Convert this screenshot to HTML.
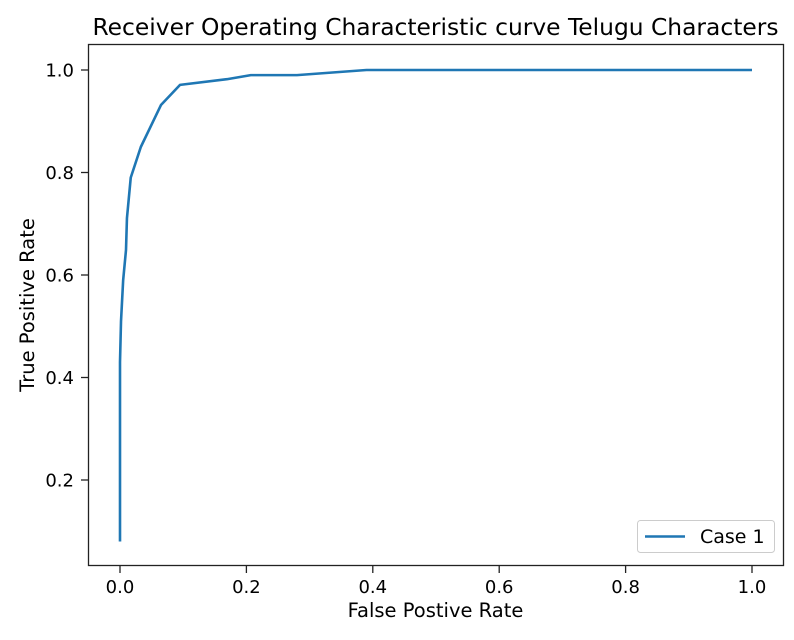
<!DOCTYPE html>
<html><head><meta charset="utf-8"><style>
body{margin:0;background:#fff;}
svg text{font-family:"DejaVu Sans","Liberation Sans",sans-serif;fill:#000;}
</style></head><body>
<svg id="chart" width="794" height="635" xmlns="http://www.w3.org/2000/svg">
<rect width="794" height="635" fill="#fff"/>
<text x="435.5" y="35" font-size="23.4" text-anchor="middle" textLength="686" lengthAdjust="spacingAndGlyphs">Receiver Operating Characteristic curve Telugu Characters</text>
<g id="ticks"></g>
<path id="curve" fill="none" stroke="#1f77b4" stroke-width="2.6" stroke-linejoin="round"/>
<rect x="88.5" y="44.5" width="695" height="521" fill="none" stroke="#222" stroke-width="1.3"/>
<text x="435.5" y="617" font-size="19.5" text-anchor="middle">False Postive Rate</text>
<text transform="translate(34,305) rotate(-90)" font-size="19.5" text-anchor="middle">True Positive Rate</text>
<g>
<rect x="637.5" y="520.5" width="137" height="32" rx="3" fill="#fff" stroke="#ccc"/>
<line x1="645" y1="536.5" x2="685" y2="536.5" stroke="#1f77b4" stroke-width="2.6"/>
<text x="700" y="543" font-size="19">Case 1</text>
</g>
</svg>
<script>
const fpr=[0,0,0.0016,0.005,0.0095,0.011,0.017,0.033,0.065,0.095,0.169,0.207,0.28,0.39,1.0];
const tpr=[0.08,0.43,0.51,0.59,0.649,0.711,0.79,0.85,0.932,0.971,0.982,0.99,0.99,1.0,1.0];
const xTicks=[0,0.2,0.4,0.6,0.8,1.0];
const yTicks=[0.2,0.4,0.6,0.8,1.0];
const X=v=>120+v*632, Y=v=>582.5-v*512.5;
document.getElementById('curve').setAttribute('d',fpr.map((f,i)=>(i?'L':'M')+X(f)+','+Y(tpr[i])).join(''));
const g=document.getElementById('ticks');const NS='http://www.w3.org/2000/svg';
xTicks.forEach(t=>{const l=document.createElementNS(NS,'line');


l.setAttribute('x1',X(t));l.setAttribute('x2',X(t));l.setAttribute('y1',565.5);l.setAttribute('y2',573);l.setAttribute('stroke','#222');l.setAttribute('stroke-width','1.3');g.appendChild(l);
const s=document.createElementNS(NS,'text');


s.setAttribute('x',X(t));s.setAttribute('y',593);s.setAttribute('font-size','18');s.setAttribute('text-anchor','middle');s.textContent=t.toFixed(1);g.appendChild(s);});
yTicks.forEach(t=>{const l=document.createElementNS(NS,'line');


l.setAttribute('x1',81);l.setAttribute('x2',88.5);l.setAttribute('y1',Y(t));l.setAttribute('y2',Y(t));l.setAttribute('stroke','#222');l.setAttribute('stroke-width','1.3');g.appendChild(l);
const s=document.createElementNS(NS,'text');


s.setAttribute('x',74);s.setAttribute('y',Y(t)+6.5);s.setAttribute('font-size','18');s.setAttribute('text-anchor','end');s.textContent=t.toFixed(1);g.appendChild(s);});
</script>
</body></html>
